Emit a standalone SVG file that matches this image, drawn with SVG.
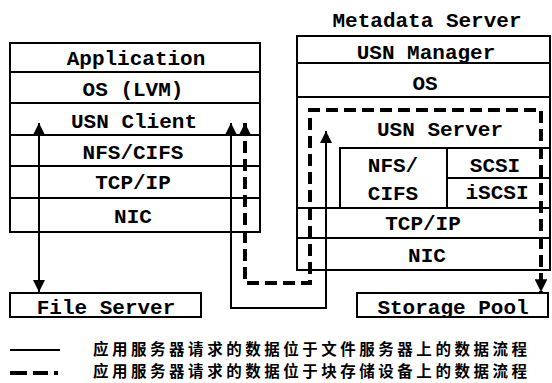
<svg xmlns="http://www.w3.org/2000/svg" width="552" height="383" viewBox="0 0 552 383">
  <style>
    .box { fill: none; stroke: #000; stroke-width: 2; }
    .lbl { font-family: "Liberation Mono", "DejaVu Sans Mono", monospace; font-weight: bold; font-size: 21px; text-anchor: middle; fill: #000; }
    .solid { fill: none; stroke: #000; stroke-width: 2; }
    .dash { fill: none; stroke: #000; stroke-width: 4; stroke-dasharray: 12 6; }
    .cjk { font-family: "Noto Sans CJK SC", "Noto Sans", sans-serif; font-weight: bold; font-size: 15.5px; fill: #000; }
  </style>
  <defs>
    <marker id="ah" viewBox="0 0 10 10" refX="10" refY="5" markerWidth="6" markerHeight="6" orient="auto-start-reverse" markerUnits="strokeWidth">
      <path d="M0,0 L10,5 L0,10 z" fill="#000"/>
    </marker>
    <marker id="ahd" viewBox="0 0 10 10" refX="10" refY="5" markerWidth="3.2" markerHeight="3.2" orient="auto-start-reverse" markerUnits="strokeWidth">
      <path d="M0,0 L10,5 L0,10 z" fill="#000"/>
    </marker>
  </defs>

  <rect width="552" height="383" fill="#fff"/>

  <!-- client protocol stack -->
  <g id="client-stack">
    <rect class="box" x="10" y="43" width="250" height="189"/>
    <line class="box" x1="10" y1="72" x2="260" y2="72"/>
    <line class="box" x1="10" y1="103" x2="260" y2="103"/>
    <line class="box" x1="10" y1="135" x2="260" y2="135"/>
    <line class="box" x1="10" y1="166" x2="260" y2="166"/>
    <line class="box" x1="10" y1="198" x2="260" y2="198"/>
    <text class="lbl" x="136" y="65">Application</text>
    <text class="lbl" x="133" y="96">OS (LVM)</text>
    <text class="lbl" x="134" y="128">USN Client</text>
    <text class="lbl" x="133" y="159">NFS/CIFS</text>
    <text class="lbl" x="133" y="189">TCP/IP</text>
    <text class="lbl" x="133" y="223">NIC</text>
  </g>

  <!-- metadata server stack -->
  <g id="metadata-server">
    <text class="lbl" x="427" y="27">Metadata Server</text>
    <rect class="box" x="297" y="36" width="253" height="234"/>
    <line class="box" x1="297" y1="63" x2="550" y2="63"/>
    <line class="box" x1="297" y1="97" x2="550" y2="97"/>
    <text class="lbl" x="426" y="59">USN Manager</text>
    <text class="lbl" x="425" y="90">OS</text>
    <text class="lbl" x="440" y="136">USN Server</text>
    <!-- NFS/CIFS and SCSI/iSCSI cells -->
    <path class="box" d="M340,208 V148 H550"/>
    <line class="box" x1="447" y1="148" x2="447" y2="208"/>
    <line class="box" x1="447" y1="178" x2="550" y2="178"/>
    <line class="box" x1="297" y1="208" x2="550" y2="208"/>
    <line class="box" x1="297" y1="238" x2="550" y2="238"/>
    <text class="lbl" x="393" y="172">NFS/</text>
    <text class="lbl" x="393" y="200">CIFS</text>
    <text class="lbl" x="495" y="172">SCSI</text>
    <text class="lbl" x="497" y="199">iSCSI</text>
    <text class="lbl" x="423" y="230">TCP/IP</text>
    <text class="lbl" x="427" y="262">NIC</text>
  </g>

  <g id="file-server">
    <rect class="box" x="10" y="293" width="191" height="24"/>
    <text class="lbl" x="106" y="314">File Server</text>
  </g>

  <g id="storage-pool">
    <rect class="box" x="357" y="293" width="191" height="24"/>
    <text class="lbl" x="453" y="314">Storage Pool</text>
  </g>

  <!-- data paths -->
  <g id="connectors">
    <line class="solid" x1="39" y1="123" x2="39" y2="292" marker-start="url(#ah)" marker-end="url(#ah)"/>
    <path class="solid" d="M231,123 V308 H326 V131" marker-start="url(#ah)" marker-end="url(#ah)"/>
    <path class="dash" d="M245,123 V283 H310 V110 H541 V292" marker-start="url(#ahd)" marker-end="url(#ahd)"/>
  </g>

  <!-- legend -->
  <g id="legend">
    <line x1="10" y1="350" x2="60" y2="350" stroke="#000" stroke-width="2"/>
    <text class="cjk" x="93" y="355" textLength="434" lengthAdjust="spacing">应用服务器请求的数据位于文件服务器上的数据流程</text>
    <path d="M10,373 H27 M33,373 H48 M54,373 H58" stroke="#000" stroke-width="4" fill="none"/>
    <text class="cjk" x="93" y="377" textLength="434" lengthAdjust="spacing">应用服务器请求的数据位于块存储设备上的数据流程</text>
  </g>
</svg>
